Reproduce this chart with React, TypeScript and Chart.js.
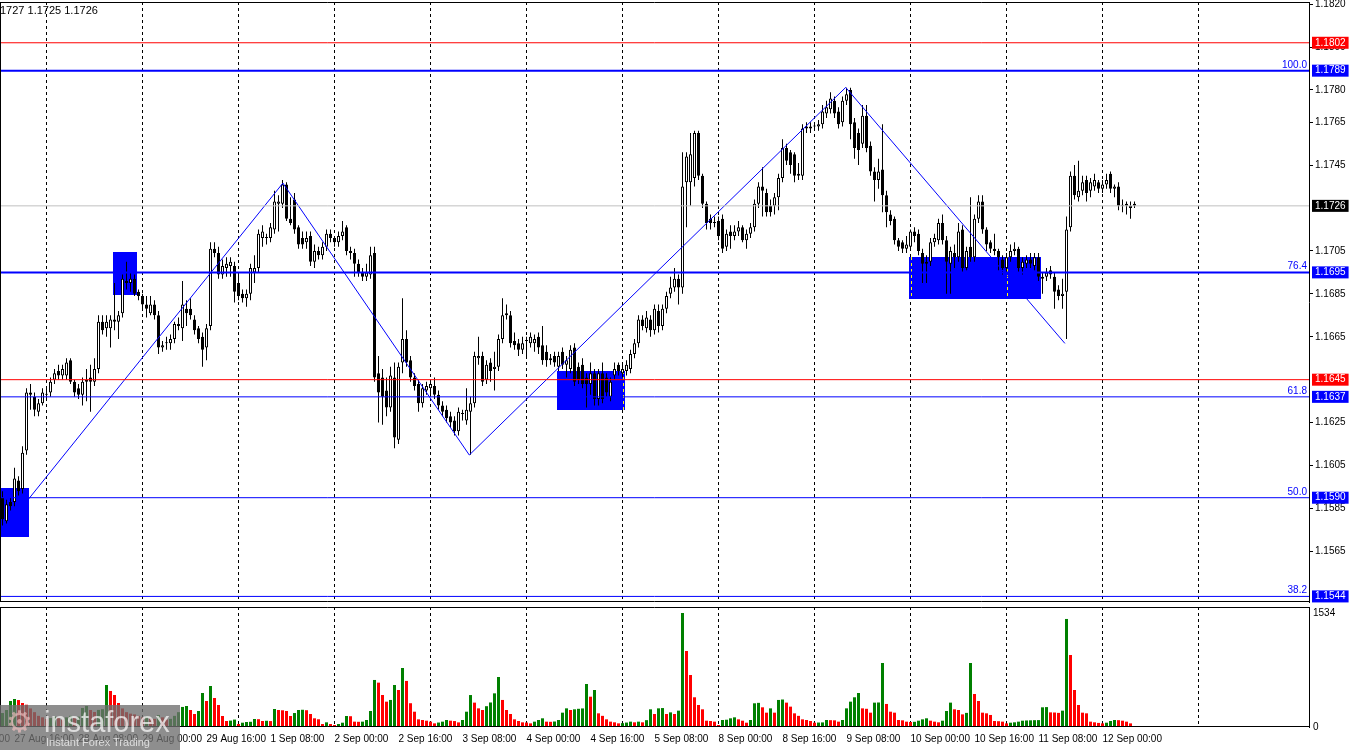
import React, { useEffect, useRef } from "react";
import { Chart, registerables } from "chart.js";

Chart.register(...registerables);

const FONT = "'Liberation Sans', Arial, sans-serif";

// x values are trading hours counted from 28 Aug 00:00 (H1 candles)
const FIRST_HOUR = -11;
const X_MIN = -11.625;
const X_MAX = 315.625;
const Y_MIN = 1.15414;
const Y_MAX = 1.1821;
const VOL_MAX = 1615;

const OPEN = [
  1.1590, 1.1579, 1.1588, 1.1588, 1.1598, 1.1594, 1.1612, 1.1639, 1.1637, 1.1630,
  1.1634, 1.1638, 1.1639, 1.1645, 1.1649, 1.1647, 1.1647, 1.1654, 1.1644, 1.1641,
  1.1638, 1.1644, 1.1646, 1.1644, 1.1650, 1.1672, 1.1669, 1.1669, 1.1673, 1.1672,
  1.1676, 1.1691, 1.1690, 1.1692, 1.1686, 1.1684, 1.1680, 1.1676, 1.1680, 1.1675,
  1.1660, 1.1662, 1.1662, 1.1664, 1.1670, 1.1669, 1.1678, 1.1678, 1.1673, 1.1669,
  1.1665, 1.1660, 1.1670, 1.1706, 1.1704, 1.1694, 1.1697, 1.1698, 1.1698, 1.1690,
  1.1685, 1.1683, 1.1685, 1.1695, 1.1697, 1.1711, 1.1711, 1.1711, 1.1715, 1.1727,
  1.1727, 1.1736, 1.1720, 1.1729, 1.1716, 1.1711, 1.1709, 1.1712, 1.1700, 1.1705,
  1.1703, 1.1707, 1.1713, 1.1711, 1.1709, 1.1712, 1.1716, 1.1705, 1.1704, 1.1699,
  1.1695, 1.1693, 1.1694, 1.1704, 1.1648, 1.1646, 1.1640, 1.1632, 1.1646, 1.1617,
  1.1653, 1.1664, 1.1654, 1.1646, 1.1643, 1.1634, 1.1640, 1.1641, 1.1642, 1.1638,
  1.1633, 1.1631, 1.1628, 1.1626, 1.1621, 1.1629, 1.1626, 1.1630, 1.1634, 1.1655,
  1.1656, 1.1645, 1.1653, 1.1650, 1.1651, 1.1664, 1.1676, 1.1675, 1.1663, 1.1662,
  1.1659, 1.1663, 1.1662, 1.1662, 1.1665, 1.1661, 1.1658, 1.1654, 1.1656, 1.1651,
  1.1658, 1.1652, 1.1650, 1.1660, 1.1651, 1.1652, 1.1646, 1.1643, 1.1648, 1.1636,
  1.1648, 1.1646, 1.1637, 1.1647, 1.1652, 1.1648, 1.1649, 1.1650, 1.1657, 1.1662,
  1.1673, 1.1669, 1.1673, 1.1668, 1.1677, 1.1670, 1.1678, 1.1685, 1.1688, 1.1692,
  1.1688, 1.1737, 1.1737, 1.1739, 1.1760, 1.1740, 1.1727, 1.1720, 1.1718, 1.1719,
  1.1720, 1.1707, 1.1714, 1.1712, 1.1714, 1.1716, 1.1710, 1.1713, 1.1716, 1.1727,
  1.1735, 1.1732, 1.1726, 1.1726, 1.1730, 1.1739, 1.1753, 1.1751, 1.1750, 1.1741,
  1.1740, 1.1762, 1.1762, 1.1763, 1.1763, 1.1764, 1.1769, 1.1771, 1.1775, 1.1770,
  1.1765, 1.1775, 1.1780, 1.1765, 1.1760, 1.1755, 1.1768, 1.1754, 1.1742, 1.1738,
  1.1743, 1.1731, 1.1722, 1.1720, 1.1710, 1.1709, 1.1706, 1.1707, 1.1714, 1.1713,
  1.1704, 1.1699, 1.1700, 1.1709, 1.1710, 1.1718, 1.1710, 1.1699, 1.1704, 1.1702,
  1.1715, 1.1697, 1.1707, 1.1702, 1.1720, 1.1728, 1.1715, 1.1709, 1.1706, 1.1705,
  1.1701, 1.1697, 1.1702, 1.1705, 1.1706, 1.1697, 1.1699, 1.1701, 1.1698, 1.1702,
  1.1692, 1.1693, 1.1696, 1.1693, 1.1687, 1.1684, 1.1686, 1.1716, 1.1740, 1.1730,
  1.1733, 1.1738, 1.1733, 1.1735, 1.1737, 1.1734, 1.1736, 1.1741, 1.1734, 1.1735,
  1.1726, 1.1727, 1.1725, 1.1727,
];

const HIGH = [
  1.1593, 1.1589, 1.1590, 1.1604, 1.1600, 1.1614, 1.1641, 1.1643, 1.1639, 1.1636,
  1.1641, 1.1641, 1.1646, 1.1650, 1.1652, 1.1652, 1.1655, 1.1655, 1.1645, 1.1643,
  1.1646, 1.1650, 1.1652, 1.1655, 1.1675, 1.1675, 1.1675, 1.1675, 1.1690, 1.1677,
  1.1694, 1.1700, 1.1695, 1.1694, 1.1687, 1.1685, 1.1684, 1.1684, 1.1682, 1.1677,
  1.1663, 1.1665, 1.1666, 1.1672, 1.1674, 1.1691, 1.1682, 1.1683, 1.1675, 1.1670,
  1.1667, 1.1671, 1.1709, 1.1709, 1.1707, 1.1701, 1.1702, 1.1702, 1.1700, 1.1695,
  1.1687, 1.1687, 1.1699, 1.1703, 1.1715, 1.1717, 1.1713, 1.1718, 1.1733, 1.1731,
  1.1738, 1.1737, 1.1730, 1.1732, 1.1717, 1.1714, 1.1714, 1.1714, 1.1708, 1.1707,
  1.1709, 1.1715, 1.1715, 1.1712, 1.1714, 1.1719, 1.1717, 1.1707, 1.1706, 1.1701,
  1.1697, 1.1699, 1.1707, 1.1707, 1.1656, 1.1650, 1.1646, 1.1651, 1.1653, 1.1653,
  1.1683, 1.1668, 1.1656, 1.1648, 1.1645, 1.1643, 1.1644, 1.1645, 1.1646, 1.1640,
  1.1635, 1.1633, 1.1630, 1.1628, 1.1632, 1.1631, 1.1641, 1.1637, 1.1658, 1.1665,
  1.1658, 1.1654, 1.1655, 1.1658, 1.1666, 1.1683, 1.1680, 1.1677, 1.1667, 1.1664,
  1.1665, 1.1665, 1.1667, 1.1666, 1.1667, 1.1670, 1.1661, 1.1657, 1.1658, 1.1658,
  1.1660, 1.1656, 1.1661, 1.1662, 1.1653, 1.1655, 1.1648, 1.1653, 1.1650, 1.1650,
  1.1653, 1.1648, 1.1646, 1.1653, 1.1653, 1.1652, 1.1654, 1.1659, 1.1664, 1.1675,
  1.1675, 1.1677, 1.1675, 1.1680, 1.1680, 1.1680, 1.1686, 1.1693, 1.1697, 1.1694,
  1.1751, 1.1751, 1.1760, 1.1761, 1.1761, 1.1741, 1.1728, 1.1722, 1.1721, 1.1721,
  1.1722, 1.1715, 1.1717, 1.1717, 1.1719, 1.1717, 1.1715, 1.1718, 1.1729, 1.1737,
  1.1744, 1.1734, 1.1729, 1.1732, 1.1741, 1.1757, 1.1755, 1.1752, 1.1751, 1.1746,
  1.1764, 1.1765, 1.1765, 1.1765, 1.1766, 1.1773, 1.1775, 1.1779, 1.1777, 1.1772,
  1.1777, 1.1781, 1.1781, 1.1767, 1.1762, 1.1773, 1.1773, 1.1756, 1.1744, 1.1748,
  1.1764, 1.1733, 1.1724, 1.1721, 1.1711, 1.1710, 1.1712, 1.1715, 1.1716, 1.1715,
  1.1706, 1.1703, 1.1711, 1.1713, 1.1720, 1.1722, 1.1712, 1.1707, 1.1708, 1.1718,
  1.1717, 1.1707, 1.1730, 1.1722, 1.1731, 1.1731, 1.1716, 1.1710, 1.1713, 1.1706,
  1.1703, 1.1704, 1.1708, 1.1709, 1.1707, 1.1702, 1.1703, 1.1704, 1.1704, 1.1704,
  1.1695, 1.1697, 1.1698, 1.1695, 1.1689, 1.1692, 1.1721, 1.1742, 1.1745, 1.1747,
  1.1740, 1.1740, 1.1739, 1.1741, 1.1738, 1.1738, 1.1741, 1.1742, 1.1736, 1.1737,
  1.1729, 1.1728, 1.1728, 1.1728,
];

const LOW = [
  1.1577, 1.1578, 1.1584, 1.1586, 1.1591, 1.1592, 1.1610, 1.1631, 1.1628, 1.1628,
  1.1633, 1.1636, 1.1637, 1.1643, 1.1645, 1.1645, 1.1645, 1.1643, 1.1637, 1.1636,
  1.1633, 1.1635, 1.1630, 1.1642, 1.1648, 1.1666, 1.1665, 1.1660, 1.1668, 1.1664,
  1.1674, 1.1687, 1.1686, 1.1684, 1.1682, 1.1678, 1.1674, 1.1675, 1.1673, 1.1657,
  1.1658, 1.1659, 1.1659, 1.1662, 1.1668, 1.1663, 1.1670, 1.1673, 1.1666, 1.1662,
  1.1651, 1.1654, 1.1668, 1.1702, 1.1692, 1.1692, 1.1693, 1.1693, 1.1681, 1.1682,
  1.1681, 1.1679, 1.1682, 1.1690, 1.1695, 1.1707, 1.1708, 1.1709, 1.1713, 1.1714,
  1.1725, 1.1719, 1.1717, 1.1713, 1.1706, 1.1706, 1.1706, 1.1698, 1.1697, 1.1701,
  1.1701, 1.1705, 1.1709, 1.1707, 1.1707, 1.1710, 1.1703, 1.1701, 1.1693, 1.1693,
  1.1691, 1.1691, 1.1692, 1.1644, 1.1625, 1.1624, 1.1628, 1.1630, 1.1613, 1.1615,
  1.1648, 1.1651, 1.1644, 1.1640, 1.1630, 1.1632, 1.1638, 1.1637, 1.1636, 1.1631,
  1.1628, 1.1625, 1.1623, 1.1619, 1.1619, 1.1626, 1.1624, 1.1610, 1.1632, 1.1652,
  1.1642, 1.1643, 1.1644, 1.1640, 1.1649, 1.1662, 1.1673, 1.1660, 1.1659, 1.1656,
  1.1657, 1.1656, 1.1660, 1.1658, 1.1657, 1.1652, 1.1651, 1.1652, 1.1651, 1.1649,
  1.1650, 1.1646, 1.1648, 1.1642, 1.1643, 1.1641, 1.1632, 1.1638, 1.1633, 1.1633,
  1.1634, 1.1637, 1.1635, 1.1645, 1.1647, 1.1646, 1.1647, 1.1648, 1.1655, 1.1660,
  1.1668, 1.1667, 1.1665, 1.1666, 1.1667, 1.1668, 1.1676, 1.1683, 1.1686, 1.1680,
  1.1685, 1.1716, 1.1726, 1.1735, 1.1738, 1.1725, 1.1715, 1.1715, 1.1716, 1.1710,
  1.1704, 1.1705, 1.1706, 1.1710, 1.1712, 1.1709, 1.1706, 1.1711, 1.1714, 1.1725,
  1.1721, 1.1721, 1.1721, 1.1722, 1.1724, 1.1737, 1.1745, 1.1741, 1.1737, 1.1738,
  1.1738, 1.1760, 1.1760, 1.1761, 1.1761, 1.1762, 1.1767, 1.1769, 1.1767, 1.1762,
  1.1763, 1.1773, 1.1757, 1.1748, 1.1745, 1.1753, 1.1751, 1.1740, 1.1728, 1.1734,
  1.1723, 1.1716, 1.1717, 1.1708, 1.1705, 1.1704, 1.1704, 1.1705, 1.1709, 1.1703,
  1.1690, 1.1690, 1.1698, 1.1707, 1.1708, 1.1708, 1.1685, 1.1685, 1.1697, 1.1700,
  1.1695, 1.1696, 1.1700, 1.1700, 1.1718, 1.1713, 1.1705, 1.1704, 1.1703, 1.1696,
  1.1694, 1.1695, 1.1700, 1.1703, 1.1695, 1.1694, 1.1697, 1.1697, 1.1696, 1.1691,
  1.1685, 1.1691, 1.1692, 1.1678, 1.1682, 1.1678, 1.1664, 1.1714, 1.1729, 1.1728,
  1.1731, 1.1728, 1.1730, 1.1733, 1.1732, 1.1732, 1.1734, 1.1732, 1.1730, 1.1724,
  1.1723, 1.1722, 1.1720, 1.1725,
];

const CLOSE = [
  1.1580, 1.1587, 1.1586, 1.1599, 1.1593, 1.1611, 1.1639, 1.1638, 1.1631, 1.1634,
  1.1639, 1.1638, 1.1644, 1.1648, 1.1647, 1.1650, 1.1653, 1.1644, 1.1639, 1.1638,
  1.1644, 1.1645, 1.1644, 1.1650, 1.1672, 1.1668, 1.1672, 1.1673, 1.1672, 1.1675,
  1.1692, 1.1690, 1.1692, 1.1685, 1.1684, 1.1680, 1.1678, 1.1680, 1.1675, 1.1660,
  1.1661, 1.1662, 1.1664, 1.1671, 1.1671, 1.1680, 1.1676, 1.1675, 1.1668, 1.1664,
  1.1659, 1.1669, 1.1706, 1.1704, 1.1694, 1.1698, 1.1699, 1.1700, 1.1686, 1.1684,
  1.1683, 1.1685, 1.1697, 1.1697, 1.1713, 1.1714, 1.1711, 1.1716, 1.1728, 1.1728,
  1.1736, 1.1720, 1.1718, 1.1715, 1.1708, 1.1708, 1.1711, 1.1700, 1.1705, 1.1703,
  1.1707, 1.1713, 1.1711, 1.1709, 1.1712, 1.1714, 1.1705, 1.1704, 1.1699, 1.1695,
  1.1693, 1.1695, 1.1703, 1.1646, 1.1639, 1.1637, 1.1632, 1.1647, 1.1618, 1.1651,
  1.1664, 1.1653, 1.1646, 1.1642, 1.1634, 1.1641, 1.1642, 1.1643, 1.1638, 1.1633,
  1.1630, 1.1627, 1.1625, 1.1621, 1.1630, 1.1629, 1.1631, 1.1634, 1.1656, 1.1656,
  1.1644, 1.1652, 1.1649, 1.1651, 1.1664, 1.1675, 1.1675, 1.1662, 1.1661, 1.1659,
  1.1662, 1.1663, 1.1665, 1.1664, 1.1660, 1.1654, 1.1654, 1.1655, 1.1653, 1.1656,
  1.1652, 1.1654, 1.1659, 1.1644, 1.1645, 1.1643, 1.1643, 1.1648, 1.1636, 1.1648,
  1.1636, 1.1639, 1.1644, 1.1650, 1.1649, 1.1650, 1.1652, 1.1657, 1.1662, 1.1673,
  1.1670, 1.1674, 1.1668, 1.1678, 1.1670, 1.1678, 1.1684, 1.1688, 1.1692, 1.1688,
  1.1735, 1.1749, 1.1750, 1.1760, 1.1740, 1.1727, 1.1718, 1.1718, 1.1718, 1.1712,
  1.1706, 1.1713, 1.1712, 1.1714, 1.1716, 1.1710, 1.1713, 1.1716, 1.1727, 1.1735,
  1.1733, 1.1723, 1.1723, 1.1730, 1.1739, 1.1753, 1.1747, 1.1745, 1.1740, 1.1740,
  1.1762, 1.1763, 1.1763, 1.1763, 1.1764, 1.1770, 1.1772, 1.1776, 1.1769, 1.1764,
  1.1775, 1.1778, 1.1764, 1.1753, 1.1752, 1.1768, 1.1753, 1.1742, 1.1738, 1.1742,
  1.1731, 1.1723, 1.1719, 1.1710, 1.1707, 1.1706, 1.1708, 1.1714, 1.1712, 1.1705,
  1.1699, 1.1700, 1.1709, 1.1711, 1.1718, 1.1710, 1.1700, 1.1705, 1.1702, 1.1714,
  1.1697, 1.1705, 1.1702, 1.1720, 1.1728, 1.1715, 1.1708, 1.1706, 1.1705, 1.1702,
  1.1697, 1.1702, 1.1705, 1.1706, 1.1697, 1.1700, 1.1701, 1.1699, 1.1702, 1.1693,
  1.1693, 1.1695, 1.1694, 1.1686, 1.1684, 1.1685, 1.1715, 1.1740, 1.1731, 1.1733,
  1.1737, 1.1732, 1.1737, 1.1738, 1.1734, 1.1736, 1.1738, 1.1734, 1.1735, 1.1726,
  1.1726, 1.1726, 1.1726, 1.1726,
];

const VOLUME = [
  188, 229, 350, 377, 363, 323, 300, 250, 200, 150,
  130, 110, 120, 140, 120, 100, 130, 150, 120, 140,
  256, 283, 229, 202, 230, 240, 565, 485, 431, 323,
  250, 200, 180, 170, 150, 130, 140, 120, 110, 160,
  130, 100, 110, 150, 200, 270, 283, 229, 175, 215,
  458, 350, 552, 390, 296, 148, 81, 86, 100, 40,
  58, 67, 70, 108, 105, 81, 84, 80, 242, 229,
  225, 215, 148, 188, 229, 232, 226, 175, 117, 104,
  40, 63, 40, 27, 40, 58, 148, 145, 72, 70,
  72, 94, 215, 633, 597, 431, 341, 364, 565, 498,
  794, 620, 320, 206, 103, 94, 85, 72, 49, 60,
  72, 94, 85, 80, 62, 94, 206, 430, 328, 251,
  229, 280, 330, 453, 673, 364, 229, 175, 103, 81,
  63, 60, 49, 72, 94, 117, 72, 70, 74, 94,
  193, 251, 229, 238, 245, 250, 579, 408, 498, 184,
  150, 103, 72, 63, 49, 52, 60, 72, 63, 72,
  63, 92, 238, 175, 251, 255, 175, 197, 175, 220,
  1534, 1023, 700, 400, 296, 238, 85, 81, 72, 27,
  94, 98, 117, 130, 103, 85, 58, 94, 319, 325,
  265, 193, 251, 193, 364, 370, 328, 274, 184, 150,
  103, 94, 81, 58, 60, 62, 94, 92, 90, 72,
  94, 251, 341, 400, 458, 251, 245, 193, 328, 330,
  861, 310, 206, 193, 94, 90, 72, 67, 70, 85,
  103, 117, 85, 72, 63, 85, 215, 328, 238, 229,
  170, 190, 861, 444, 350, 193, 184, 162, 81, 78,
  72, 49, 58, 63, 72, 85, 88, 90, 92, 93,
  265, 268, 197, 195, 190, 220, 1454, 969, 498, 296,
  193, 184, 72, 63, 55, 49, 58, 81, 94, 92,
  85, 72, 49, 10,
];

// Time axis
const DAY_LINES = [0, 24, 48, 72, 96, 120, 144, 168, 192, 216, 240, 264, 288];
const TIME_LABEL_HOURS = [-24, -8, 8, 24, 40, 56, 72, 88, 104, 120, 136, 152, 168, 184, 200, 216, 232, 248, 264];
const TIME_LABELS = [
  "27 Aug 00:00", "27 Aug 16:00", "28 Aug 08:00", "29 Aug 00:00", "29 Aug 16:00",
  "1 Sep 08:00", "2 Sep 00:00", "2 Sep 16:00", "3 Sep 08:00", "4 Sep 00:00",
  "4 Sep 16:00", "5 Sep 08:00", "8 Sep 00:00", "8 Sep 16:00", "9 Sep 08:00",
  "10 Sep 00:00", "10 Sep 16:00", "11 Sep 08:00", "12 Sep 00:00",
];

// Price axis
const PRICE_TICKS = [1.1820, 1.1800, 1.1780, 1.1765, 1.1745, 1.1705, 1.1685, 1.1665, 1.1625, 1.1605, 1.1585, 1.1565];
const MARKER_PRICES = [1.1802, 1.1789, 1.1726, 1.1695, 1.1645, 1.1637, 1.1590, 1.1544];
const MARKER_COLORS = ["#FF0000", "#0000FF", "#000000", "#0000FF", "#FF0000", "#0000FF", "#0000FF", "#0000FF"];

// Horizontal levels
const LEVEL_PRICES = [1.1802, 1.1789, 1.1726, 1.1695, 1.1645, 1.1637, 1.1590, 1.1544];
const LEVEL_COLORS = ["#FF0000", "#0000FF", "#C0C0C0", "#0000FF", "#FF0000", "#0000FF", "#0000FF", "#0000FF"];
const LEVEL_WIDTHS = [1, 2, 1, 2, 1, 1, 1, 1];

// Fibonacci labels
const FIB_PRICES = [1.1789, 1.1695, 1.1637, 1.1590, 1.1544];
const FIB_TEXT = ["100.0", "76.4", "61.8", "50.0", "38.2"];

// Zigzag
const ZIGZAG_HOURS = [-8.1, 59.1, 105.7, 199.8, 254.6];
const ZIGZAG_PRICES = [1.1581, 1.17366, 1.16099, 1.17812, 1.16619];

// Blue zones
const ZONE_START = [-11.625, 16.7, 127.55, 215.7];
const ZONE_END = [-4.375, 22.55, 144.6, 248.6];
const ZONE_TOP = [1.15943, 1.17046, 1.16492, 1.17023];
const ZONE_BOTTOM = [1.15718, 1.16844, 1.16308, 1.16826];

const HEADER_TEXT = "1.1727 1.1725 1.1726";

const markerIndex = (v: number) => MARKER_PRICES.findIndex((p) => Math.abs(p - v) < 1e-7);

const framePlugin = {
  id: "frame",
  afterDraw(chart: any) {
    const { ctx, chartArea: a } = chart;
    ctx.save();
    ctx.strokeStyle = "#000";
    ctx.lineWidth = 1;
    ctx.beginPath();
    ctx.moveTo(a.left, a.top + 0.5);
    ctx.lineTo(a.right, a.top + 0.5);
    ctx.moveTo(a.left, a.bottom - 0.5);
    ctx.lineTo(a.right, a.bottom - 0.5);
    ctx.moveTo(a.left + 0.5, a.top);
    ctx.lineTo(a.left + 0.5, a.bottom);
    ctx.stroke();
    ctx.restore();
  },
};

const pricePlugin = {
  id: "priceExtras",
  beforeDatasetsDraw(chart: any) {
    const { ctx, chartArea: a, scales } = chart;
    const x = scales.x;
    const y = scales.y;
    ctx.save();
    ctx.beginPath();
    ctx.rect(a.left, a.top, a.right - a.left, a.bottom - a.top);
    ctx.clip();
    for (let j = 0; j < ZONE_START.length; j++) {
      const x0 = Math.round(x.getPixelForValue(ZONE_START[j]));
      const x1 = Math.round(x.getPixelForValue(ZONE_END[j]));
      const y0 = Math.round(y.getPixelForValue(ZONE_TOP[j]));
      const y1 = Math.round(y.getPixelForValue(ZONE_BOTTOM[j]));
      ctx.fillStyle = "#0000FF";
      ctx.fillRect(x0, y0, x1 - x0, y1 - y0);
      ctx.strokeStyle = "#FFFF00";
      ctx.lineWidth = 1;
      ctx.setLineDash([3, 3]);
      for (const d of DAY_LINES) {
        const px = Math.round(x.getPixelForValue(d)) + 0.5;
        if (px > x0 && px < x1) {
          ctx.beginPath();
          ctx.moveTo(px, y0);
          ctx.lineTo(px, y1);
          ctx.stroke();
        }
      }
      ctx.setLineDash([]);
    }
    ctx.restore();
  },
  afterDraw(chart: any) {
    const { ctx, chartArea: a, scales } = chart;
    const y = scales.y;
    ctx.save();
    ctx.font = `10px ${FONT}`;
    ctx.fillStyle = "#0000FF";
    ctx.textAlign = "right";
    ctx.textBaseline = "alphabetic";
    FIB_PRICES.forEach((p, j) => {
      ctx.fillText(FIB_TEXT[j], a.right - 2, y.getPixelForValue(p) - 3);
    });
    ctx.font = `11px ${FONT}`;
    ctx.fillStyle = "#000";
    ctx.textAlign = "left";
    ctx.textBaseline = "middle";
    const pre = ctx.measureText("1.").width;
    ctx.fillText(HEADER_TEXT, -pre, 11);
    ctx.restore();
  },
};

function priceConfig(): any {
  const bodies = OPEN.map((o, k) => ({ x: FIRST_HOUR + k, y: [o, CLOSE[k]] }));
  const wicks = LOW.map((l, k) => ({ x: FIRST_HOUR + k, y: [l, HIGH[k]] }));
  const bodyFill = OPEN.map((o, k) => (CLOSE[k] >= o ? "#FFFFFF" : "#000000"));
  const levelSets = LEVEL_PRICES.map((p, j) => ({
    type: "line",
    data: [
      { x: X_MIN, y: p },
      { x: X_MAX, y: p },
    ],
    borderColor: LEVEL_COLORS[j],
    borderWidth: LEVEL_WIDTHS[j],
    pointRadius: 0,
    tension: 0,
    order: 0,
  }));
  const zigzag = {
    type: "line",
    data: ZIGZAG_HOURS.map((h, j) => ({ x: h, y: ZIGZAG_PRICES[j] })),
    borderColor: "#0000FF",
    borderWidth: 1,
    pointRadius: 0,
    tension: 0,
    order: 0,
  };
  return {
    type: "bar",
    data: {
      datasets: [
        ...levelSets,
        zigzag,
        {
          type: "bar",
          data: bodies,
          backgroundColor: bodyFill,
          borderColor: "#000000",
          borderWidth: 1,
          borderSkipped: false,
          barThickness: 3,
          minBarLength: 1,
          grouped: false,
          inflateAmount: 0,
          order: 1,
        },
        {
          type: "bar",
          data: wicks,
          backgroundColor: "#000000",
          borderWidth: 0,
          barThickness: 1,
          grouped: false,
          inflateAmount: 0,
          order: 2,
        },
      ],
    },
    options: {
      animation: false,
      responsive: false,
      devicePixelRatio: 1,
      events: [],
      layout: { autoPadding: false, padding: { top: 2, bottom: 2, left: 0, right: 0 } },
      plugins: { legend: { display: false }, tooltip: { enabled: false } },
      scales: {
        x: {
          type: "linear",
          min: X_MIN,
          max: X_MAX,
          offset: false,
          afterBuildTicks: (s: any) => {
            s.ticks = DAY_LINES.map((v) => ({ value: v }));
          },
          afterFit: (s: any) => {
            s.height = 0;
            s.paddingLeft = 0;
            s.paddingRight = 0;
          },
          ticks: { display: false },
          grid: { color: "#000000", lineWidth: 1, drawTicks: false, offset: false },
          border: { display: false, dash: [3, 3] },
        },
        y: {
          type: "linear",
          position: "right",
          min: Y_MIN,
          max: Y_MAX,
          afterBuildTicks: (s: any) => {
            s.ticks = [...PRICE_TICKS, ...MARKER_PRICES].map((v) => ({ value: v }));
          },
          afterFit: (s: any) => {
            s.width = 41;
            s.paddingTop = 0;
            s.paddingBottom = 0;
          },
          ticks: {
            autoSkip: false,
            padding: 2,
            font: { family: FONT, size: 10 },
            color: (c: any) => (markerIndex(c.tick.value) >= 0 ? "#FFFFFF" : "#000000"),
            showLabelBackdrop: true,
            backdropColor: (c: any) => {
              const m = markerIndex(c.tick.value);
              return m >= 0 ? MARKER_COLORS[m] : "rgba(0,0,0,0)";
            },
            backdropPadding: { top: 0, bottom: 0, left: 3, right: 3 },
            callback: (v: any) => Number(v).toFixed(4),
          },
          grid: {
            drawOnChartArea: false,
            drawTicks: true,
            tickLength: 4,
            tickColor: (c: any) => (markerIndex(c.tick.value) >= 0 ? "rgba(0,0,0,0)" : "#000000"),
          },
          border: { display: true, color: "#000000", width: 1 },
        },
      },
    },
    plugins: [pricePlugin, framePlugin],
  };
}

function volumeConfig(): any {
  const colors = VOLUME.map((v, k) => (k === 0 || v > VOLUME[k - 1] ? "#008000" : "#FF0000"));
  const xTicks = Array.from(new Set([...DAY_LINES, ...TIME_LABEL_HOURS])).sort((a, b) => a - b);
  return {
    type: "bar",
    data: {
      datasets: [
        {
          data: VOLUME.map((v, k) => ({ x: FIRST_HOUR + k, y: v })),
          backgroundColor: colors,
          borderWidth: 0,
          barThickness: 3,
          grouped: false,
          inflateAmount: 0,
        },
      ],
    },
    options: {
      animation: false,
      responsive: false,
      devicePixelRatio: 1,
      events: [],
      layout: { autoPadding: false, padding: { top: 3, bottom: 0, left: 0, right: 0 } },
      plugins: { legend: { display: false }, tooltip: { enabled: false } },
      scales: {
        x: {
          type: "linear",
          min: X_MIN,
          max: X_MAX,
          offset: false,
          afterBuildTicks: (s: any) => {
            s.ticks = xTicks.map((v) => ({ value: v }));
          },
          afterFit: (s: any) => {
            s.height = 23;
            s.paddingLeft = 0;
            s.paddingRight = 0;
          },
          ticks: {
            autoSkip: false,
            maxRotation: 0,
            minRotation: 0,
            align: "start",
            padding: 6,
            color: "#000000",
            font: { family: FONT, size: 10 },
            callback: (v: any) => {
              const j = TIME_LABEL_HOURS.indexOf(Number(v));
              return j >= 0 ? TIME_LABELS[j] : "";
            },
          },
          grid: {
            color: (c: any) => (c.tick && c.tick.value % 24 === 0 ? "#000000" : "rgba(0,0,0,0)"),
            lineWidth: 1,
            drawTicks: false,
            offset: false,
          },
          border: { display: false, dash: [3, 3] },
        },
        y: {
          type: "linear",
          position: "right",
          min: 0,
          max: VOL_MAX,
          afterBuildTicks: (s: any) => {
            s.ticks = [{ value: 0 }, { value: 1534 }];
          },
          afterFit: (s: any) => {
            s.width = 41;
            s.paddingTop = 0;
            s.paddingBottom = 0;
          },
          ticks: {
            autoSkip: false,
            padding: 4,
            color: "#000000",
            font: { family: FONT, size: 10 },
            callback: (v: any) => String(v),
          },
          grid: { drawOnChartArea: false, drawTicks: false },
          border: { display: true, color: "#000000", width: 1 },
        },
      },
    },
    plugins: [framePlugin],
  };
}

export default function App() {
  const priceRef = useRef<HTMLCanvasElement>(null);
  const volRef = useRef<HTMLCanvasElement>(null);

  useEffect(() => {
    const pc = new Chart(priceRef.current as HTMLCanvasElement, priceConfig());
    const vc = new Chart(volRef.current as HTMLCanvasElement, volumeConfig());
    return () => {
      pc.destroy();
      vc.destroy();
    };
  }, []);

  return (
    <div
      style={{
        position: "fixed",
        left: 0,
        top: 0,
        width: 1350,
        height: 750,
        background: "#FFFFFF",
        overflow: "hidden",
      }}
    >
      <canvas
        ref={priceRef}
        width={1350}
        height={604}
        style={{ position: "absolute", left: 0, top: 0, width: 1350, height: 604 }}
      />
      <canvas
        ref={volRef}
        width={1350}
        height={146}
        style={{ position: "absolute", left: 0, top: 604, width: 1350, height: 146 }}
      />
      <div
        style={{
          position: "absolute",
          left: 0,
          top: 705,
          width: 180,
          height: 45,
          background: "rgba(110,110,110,0.78)",
          fontFamily: FONT,
          color: "rgba(255,255,255,0.7)",
        }}
      >
        <div style={{ position: "absolute", left: 6, top: 1, fontSize: 30, lineHeight: "32px", color: "rgba(255,200,200,0.6)", fontFamily: "'DejaVu Sans', sans-serif" }}>
          ⚙
        </div>
        <div style={{ position: "absolute", left: 44, top: 2, fontSize: 29, lineHeight: "30px", letterSpacing: 0 }}>
          instaforex
        </div>
        <div style={{ position: "absolute", left: 46, top: 31, fontSize: 11, lineHeight: "12px" }}>
          Instant Forex Trading
        </div>
      </div>
    </div>
  );
}
